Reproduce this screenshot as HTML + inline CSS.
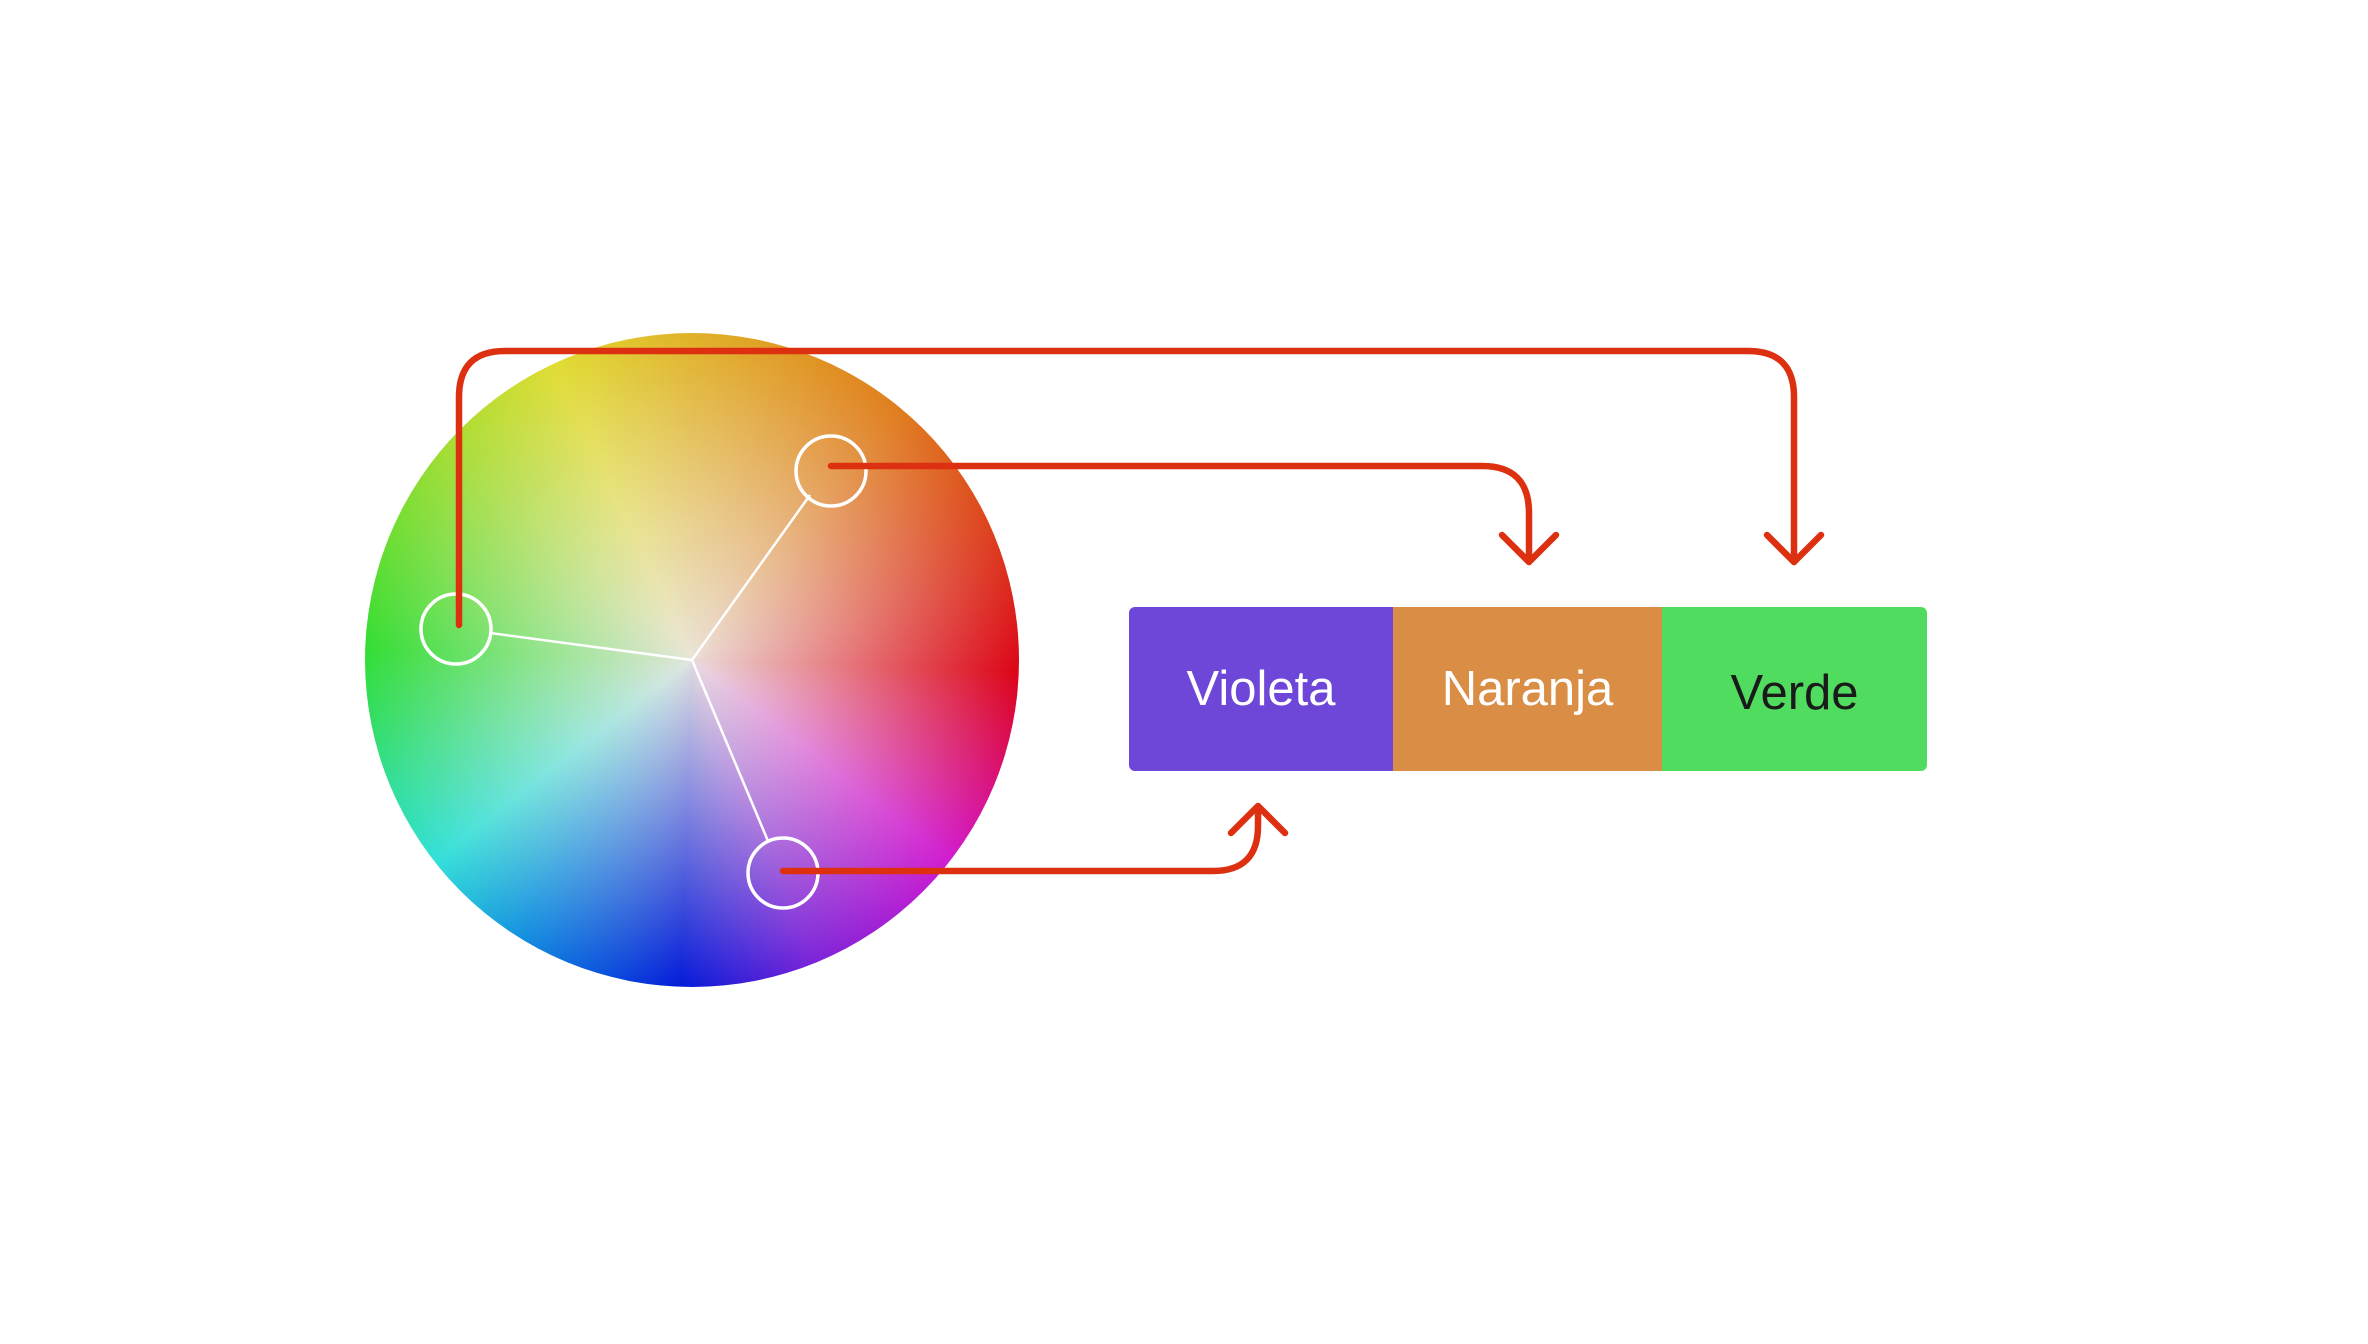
<!DOCTYPE html>
<html><head><meta charset="utf-8"><style>
html,body{margin:0;padding:0;background:#fff;}
body{width:2368px;height:1344px;position:relative;overflow:hidden;font-family:"Liberation Sans",sans-serif;}
#wrap{position:absolute;left:-6px;top:-3px;width:2368px;height:1344px;}
#wheel{position:absolute;left:371px;top:336px;width:654px;height:654px;border-radius:50%;
background:radial-gradient(circle at 50% 50%, rgba(235,230,225,0.95) 0%, rgba(240,235,230,0.55) 30%, rgba(255,255,255,0) 72%),
conic-gradient(from 0deg, #e0b024 0deg, #e07a1a 40deg, #dc2a1a 75deg, #dc0012 92deg, #d8108a 115deg, #d018d0 128deg, #7a20d8 158deg, #0018d8 182deg, #1090e0 212deg, #30e0d8 232deg, #30dd60 260deg, #30dd30 272deg, #a0dd30 310deg, #e0dc30 335deg, #e0b024 360deg);}
.seg{position:absolute;top:610px;height:164px;color:#fff;font-size:49px;display:flex;align-items:center;justify-content:center;}
</style></head><body><div id="wrap">
<div id="wheel"></div>
<div class="seg" style="left:1135px;width:264px;background:#6e46d8;border-radius:6px 0 0 6px;">Violeta</div>
<div class="seg" style="left:1399px;width:269px;background:#d98d45;">Naranja</div>
<div class="seg" style="left:1668px;width:265px;background:#50dc5f;color:#1a1a1a;border-radius:0 6px 6px 0;padding-top:8px;box-sizing:border-box;">Verde</div>
<svg width="2368" height="1344" style="position:absolute;left:0;top:0">
<g stroke="#fff" stroke-width="2.5" fill="none">
<line x1="698" y1="663" x2="496" y2="636"/>
<line x1="698" y1="663" x2="816" y2="498"/>
<line x1="698" y1="663" x2="774" y2="844"/>
<circle cx="462" cy="632" r="35" stroke-width="3.5"/>
<circle cx="837" cy="474" r="35" stroke-width="3.5"/>
<circle cx="789" cy="876" r="35" stroke-width="3.5"/>
</g>
<g stroke="#dc3010" stroke-width="6.5" fill="none" stroke-linecap="round" stroke-linejoin="round">
<path d="M465 628 V400 Q465 354 511 354 H1754 Q1800 354 1800 400 V565"/>
<path d="M1773 538 L1800 565 L1827 538"/>
<path d="M837 469 H1488 Q1535 469 1535 516 V565"/>
<path d="M1508 538 L1535 565 L1562 538"/>
<path d="M789 874 H1219 Q1264 874 1264 829 V811"/>
<path d="M1237 836 L1264 809 L1291 836"/>
</g>
</svg>
</div></body></html>
